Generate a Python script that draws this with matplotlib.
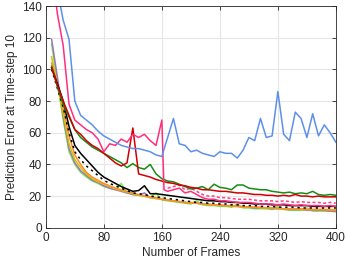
import matplotlib
matplotlib.use("Agg")
import matplotlib.pyplot as plt

# frame counts shared by most curves
frames = list(range(8, 408, 8))

blue = [175, 150, 131, 119, 80, 71, 68, 65, 61, 58,
        56, 54, 52, 51, 50, 50, 49, 48, 46, 45,
        57, 69, 53, 52, 48, 49, 47, 46, 45, 48,
        47, 47, 44, 49, 57, 55, 69, 57, 58, 86,
        59, 55, 73, 69, 57, 72, 58, 65, 60, 54]

pink_x = frames[:20] + [163] + frames[20:]
pink = [165, 135, 115, 78, 68, 65, 62, 60, 56, 48,
        53, 52, 56, 54, 59, 57, 59, 55, 52, 68,
        24,
        23, 24, 25, 22, 23, 21, 19, 18, 18, 17,
        17, 16.5, 16, 16, 16, 15.5, 15, 15, 15, 14.5,
        15, 14.5, 14, 14.5, 14, 14, 14, 13.5, 14, 13.5]

pink_dash_x = frames[20:]
pink_dash = [25, 26, 27, 24, 25, 23, 21, 20, 20, 19,
             19, 18.5, 18, 18, 18, 17.5, 17, 17, 17, 16.5,
             17, 16.5, 16, 16.5, 16, 16, 16, 15.5, 16, 15.5]

red = [101, 90, 80, 71, 62, 59, 55, 52, 50, 47,
       44, 41, 39, 41, 63, 34, 33, 32, 30.5, 29.5,
       28.5, 28, 27, 26.5, 25.5, 25, 24, 24, 23.5, 23,
       23, 22.5, 22, 22, 21.5, 21, 21, 20.5, 20.5, 20,
       20.5, 20, 21, 20, 20, 19.5, 20, 19.5, 19.5, 19.5]

green = [102, 89, 78, 70, 62, 57, 54, 51, 49, 47,
         45, 43, 41, 38, 40.5, 38, 37, 40, 34, 31,
         29.5, 29, 27.5, 26, 24.5, 25, 26, 24, 27.5, 25.5,
         25, 24, 27, 27, 25, 24.5, 24, 24, 23, 22.5,
         22, 22.5, 21.5, 22, 21.5, 23, 21, 20.5, 21, 20.5]

black = [101, 91, 80, 64, 52, 47, 43, 39, 35, 32,
         30, 28, 26, 24.5, 23, 23.5, 26.5, 21.5, 21.5, 21,
         20.5, 20, 19.5, 19, 18.5, 18, 17.5, 17, 17, 16.5,
         16.5, 16, 16, 15.5, 15.5, 15, 15, 15, 14.5, 14.5,
         14.5, 14, 14, 14, 14, 13.5, 13.5, 13.5, 13.5, 13.5]

black_dash = [100, 88, 76, 60, 48, 43, 39, 36, 33, 30,
              28, 26.5, 25, 23.5, 22, 21.5, 21, 20, 19.5, 19,
              18.5, 18, 17.5, 17, 16.5, 16, 16, 15.5, 15.5, 15,
              15, 14.5, 14.5, 14, 14, 14, 13.5, 13.5, 13.5, 13,
              13, 13, 13, 12.5, 12.5, 12.5, 12.5, 12.5, 12.5, 12.5]

orange = [104, 90, 76, 58, 46, 40, 35, 32, 30, 28,
          26.5, 25, 24, 23, 22, 21, 20, 19.5, 19, 18,
          17.5, 17, 16.5, 16, 16, 15.5, 15, 15, 14.5, 14.5,
          14, 14, 13.5, 13.5, 13, 13, 13, 12.5, 12.5, 12.5,
          12, 12, 12, 12, 11.5, 11.5, 11.5, 11.5, 11, 11]

yellow = [108, 90, 72, 53, 43, 38, 34, 31, 29, 27.5,
          26, 24.5, 23.5, 22.5, 21.5, 20.5, 20, 19, 18.5, 18,
          17.5, 17, 16.5, 16, 15.5, 15.5, 15, 14.5, 14.5, 14,
          14, 13.5, 13.5, 13, 13, 13, 12.5, 12.5, 12.5, 12,
          12, 12, 12, 11.5, 11.5, 11.5, 11.5, 11.5, 11.5, 11.5]

purple = [119, 95, 70, 50, 41, 36, 33, 30, 28.5, 26.5,
          25, 24, 23, 22, 21, 20.5, 22, 19, 18.5, 18,
          17.5, 17, 16.5, 16, 15.5, 15.5, 15, 14.5, 14.5, 14,
          14, 13.5, 13.5, 13, 13, 12.5, 12.5, 12.5, 12, 12,
          12, 11.5, 11.5, 11.5, 11, 11, 11, 11, 10.5, 10.5]

light_green = [116, 92, 68, 48, 40, 35, 32, 29.5, 28, 26,
               25, 24, 28, 22, 21, 20.5, 20, 19, 22, 17.5,
               17, 16.5, 16, 15.5, 15, 17, 14.5, 14, 14, 13.5,
               13.5, 13, 15, 12.5, 12.5, 12, 12, 12, 11.5, 13.5,
               11.5, 11, 11, 11, 12.5, 10.5, 10.5, 10.5, 10.5, 10]

series = [
    (frames, light_green, "#7CEB4E", "-"),
    (frames, purple, "#9B72C4", "-"),
    (frames, yellow, "#D2C300", "-"),
    (frames, orange, "#FF8B2C", "-"),
    (frames, black_dash, "black", (0, (1.5, 2.5))),
    (frames, black, "black", "-"),
    (pink_dash_x, pink_dash, "#FF3D86", (0, (2, 1.5))),
    (frames, green, "#168C16", "-"),
    (frames, red, "#D00000", "-"),
    (pink_x, pink, "#FF2E7E", "-"),
    (frames, blue, "#5E90EA", "-"),
]

plt.rcParams["font.family"] = ["Liberation Sans", "DejaVu Sans"]

fig = plt.figure(figsize=(3.47, 2.63), dpi=100)
ax = fig.add_axes([0.132, 0.134, 0.836, 0.843])

for xs, ys, col, ls in series:
    ax.plot(xs, ys, color=col, linestyle=ls, linewidth=1.1)

ax.set_xlim(0, 400)
ax.set_ylim(0, 140)
ax.set_xticks([0, 80, 160, 240, 320, 400])
ax.set_yticks(range(0, 141, 20))
ax.tick_params(direction="in", top=True, right=True, labelsize=8.5,
               length=3, width=0.6, colors="#262626", pad=3)
ax.grid(True, color="#E6E6E6", linewidth=0.8)
ax.set_axisbelow(True)
for sp in ax.spines.values():
    sp.set_color("#262626")
    sp.set_linewidth(0.6)

ax.set_xlabel("Number of Frames", fontsize=8.5, color="#262626", labelpad=2)
ax.set_ylabel("Prediction Error at Time-step 10", fontsize=8.5, color="#262626", labelpad=3)

fig.savefig("out.png", dpi=100)
